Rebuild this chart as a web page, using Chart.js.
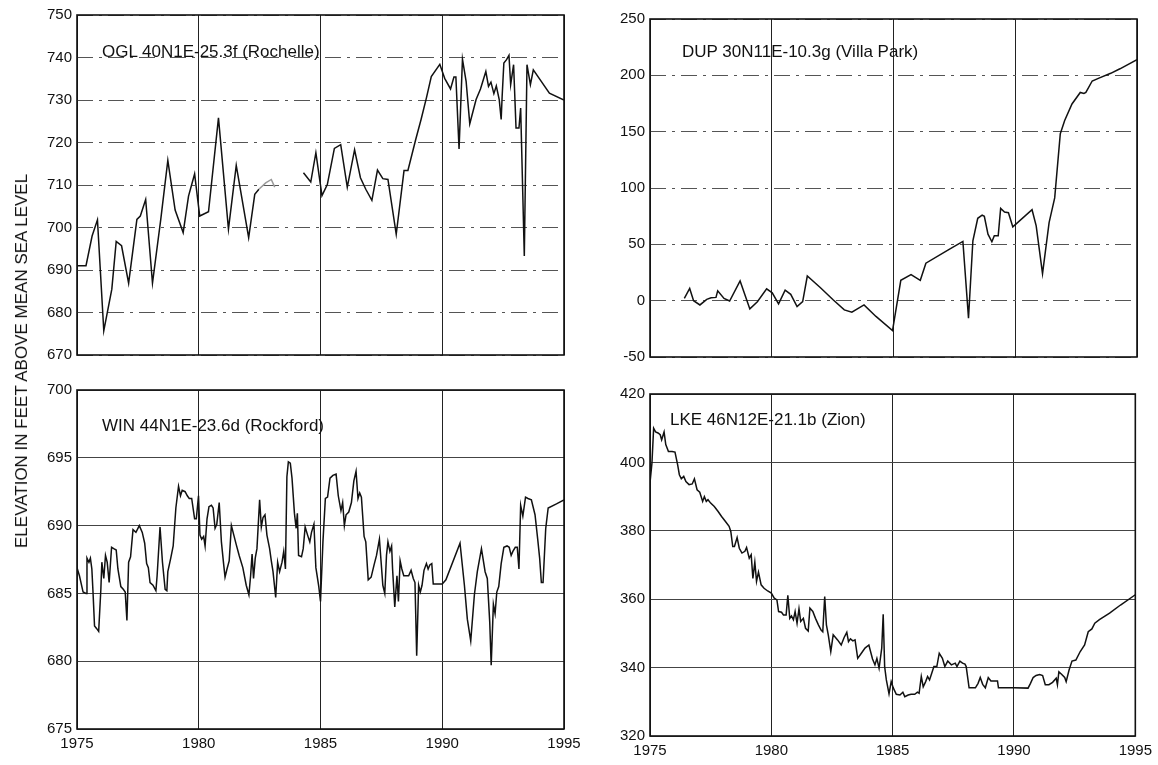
<!DOCTYPE html>
<html><head><meta charset="utf-8">
<script src="https://cdn.jsdelivr.net/npm/chart.js@4.4.1/dist/chart.umd.min.js"></script>
<style>
html,body{margin:0;padding:0;background:#fff;width:1158px;height:765px;overflow:hidden;}
.panel{position:absolute;}
.lbl{position:absolute;font-family:"Liberation Sans",Arial,sans-serif;font-size:17px;color:#111;white-space:nowrap;line-height:20px;}
#ytitle{position:absolute;left:22px;top:361px;transform:translate(-50%,-50%) rotate(-90deg);font-family:"Liberation Sans",Arial,sans-serif;font-size:17px;color:#111;white-space:nowrap;line-height:20px;}
</style></head>
<body>
<div class="panel" style="left:0;top:0;width:580px;height:370px"><canvas id="c1"></canvas></div>
<div class="panel" style="left:580px;top:0;width:578px;height:372px"><canvas id="c2"></canvas></div>
<div class="panel" style="left:0;top:375px;width:604px;height:390px"><canvas id="c3"></canvas></div>
<div class="panel" style="left:580px;top:379px;width:578px;height:386px"><canvas id="c4"></canvas></div>
<div class="lbl" style="left:102px;top:42px">OGL 40N1E-25.3f (Rochelle)</div>
<div class="lbl" style="left:682px;top:42px">DUP 30N11E-10.3g (Villa Park)</div>
<div class="lbl" style="left:102px;top:416px">WIN 44N1E-23.6d (Rockford)</div>
<div class="lbl" style="left:670px;top:410px">LKE 46N12E-21.1b (Zion)</div>
<div id="ytitle">ELEVATION IN FEET ABOVE MEAN SEA LEVEL</div>
<script>
// ---- tick labels ----
const xTicks = [1975, 1980, 1985, 1990, 1995];
const oglTicks = [670, 680, 690, 700, 710, 720, 730, 740, 750];
const dupTicks = [-50, 0, 50, 100, 150, 200, 250];
const winTicks = [675, 680, 685, 690, 695, 700];
const lkeTicks = [320, 340, 360, 380, 400, 420];

// ---- series values [year, elevation] ----
const oglSeries = [[1975.03,691],[1975.37,691],[1975.62,698],[1975.84,701.8],[1976.1,675.7],[1976.43,685.5],[1976.61,696.7],[1976.83,695.7],[1977.12,686.9],[1977.46,701.9],[1977.6,702.7],[1977.82,706.6],[1978.1,686.9],[1978.44,701.9],[1978.73,715.8],[1979.03,704.1],[1979.36,698.8],[1979.58,707.4],[1979.83,712.6],[1980.04,702.7],[1980.4,703.7],[1980.81,725.8],[1981.22,699.6],[1981.54,714.6],[1982.05,697.6],[1982.3,707.8],[1982.47,709],[1982.75,710.5],[1982.98,711.3],[1983.12,709.5],[1983.6,null],[1984.3,712.9],[1984.6,710.7],[1984.81,717.6],[1985.06,707.5],[1985.28,710.1],[1985.57,718.6],[1985.83,719.5],[1986.1,709.5],[1986.4,718.3],[1986.64,711.7],[1986.86,709],[1987.11,706.4],[1987.34,713.5],[1987.56,711.5],[1987.77,711.3],[1988.11,698.4],[1988.43,713.4],[1988.59,713.4],[1988.91,720.7],[1989.13,725.4],[1989.35,730.5],[1989.55,735.5],[1989.9,738.4],[1990.1,735.1],[1990.34,732.6],[1990.48,735.4],[1990.56,735.4],[1990.69,718.5],[1990.83,739.6],[1990.98,734.4],[1991.13,724.4],[1991.39,730.1],[1991.57,732.6],[1991.79,736.7],[1991.9,733.2],[1992.0,734.2],[1992.12,731.5],[1992.22,733.3],[1992.34,730.1],[1992.42,725.4],[1992.46,730.9],[1992.53,738.7],[1992.64,739.5],[1992.74,740.5],[1992.81,733.6],[1992.93,738.3],[1993.03,723.4],[1993.15,723.4],[1993.22,728.1],[1993.37,693.3],[1993.48,738.3],[1993.62,733.6],[1993.74,737.1],[1994.4,731.6],[1995.0,730]];

const dupSeries = [[1976.41,2],[1976.63,10.8],[1976.79,0],[1977.05,-3.8],[1977.33,1.2],[1977.51,2.6],[1977.71,2.9],[1977.78,8.8],[1978.04,2],[1978.27,-0.3],[1978.7,17.5],[1979.1,-7.3],[1979.41,-0.9],[1979.79,10.5],[1980.02,7],[1980.28,-2.9],[1980.55,9.4],[1980.78,5.6],[1981.04,-5.3],[1981.27,-0.9],[1981.46,21.9],[1981.99,11.7],[1982.53,0.6],[1982.98,-8.2],[1983.29,-10.2],[1983.79,-3.8],[1984.28,-14],[1984.96,-26.6],[1985.3,18.1],[1985.72,23.1],[1986.1,18.1],[1986.33,33.3],[1987.32,45.9],[1987.85,52.6],[1988.08,-15.5],[1988.26,53.2],[1988.46,73.1],[1988.64,76],[1988.73,74.9],[1988.88,59],[1989.04,52.3],[1989.14,57.6],[1989.3,57.6],[1989.4,81.9],[1989.56,78.7],[1989.72,78.1],[1989.9,65.5],[1990.69,80.7],[1990.86,66.4],[1991.12,24],[1991.39,69.3],[1991.62,91.2],[1991.85,148.2],[1992.03,160],[1992.33,174.6],[1992.67,184.8],[1992.82,183.9],[1992.9,184.8],[1993.16,195],[1993.46,197.7],[1993.92,201.8],[1994.3,205.8],[1995,214]];

const winSeries = [[1975.0,686.9],[1975.1,686.3],[1975.25,685.1],[1975.37,685.0],[1975.41,687.6],[1975.49,687.3],[1975.55,687.6],[1975.61,686.8],[1975.66,685],[1975.72,682.6],[1975.81,682.4],[1975.89,682.2],[1975.98,685.3],[1976.02,687.3],[1976.1,686.1],[1976.17,687.8],[1976.24,687.3],[1976.32,685.8],[1976.42,688.4],[1976.51,688.3],[1976.61,688.2],[1976.68,686.8],[1976.8,685.5],[1976.9,685.3],[1976.98,685.1],[1977.05,683],[1977.12,687.3],[1977.2,687.7],[1977.3,689.7],[1977.42,689.5],[1977.56,690],[1977.68,689.5],[1977.78,688.7],[1977.86,687.2],[1977.93,686.9],[1978.0,685.8],[1978.12,685.6],[1978.24,685.2],[1978.29,686.3],[1978.41,689.9],[1978.51,687.3],[1978.62,685.3],[1978.69,685.2],[1978.73,686.6],[1978.85,687.6],[1978.95,688.5],[1979.06,691.3],[1979.17,692.9],[1979.25,692.2],[1979.32,692.6],[1979.44,692.5],[1979.53,692.2],[1979.61,692],[1979.71,692],[1979.83,690.5],[1979.9,690.5],[1979.99,692.2],[1980.05,689.3],[1980.12,689],[1980.2,689.2],[1980.26,688.5],[1980.34,690.5],[1980.42,691.4],[1980.52,691.5],[1980.59,691.3],[1980.67,689.8],[1980.74,690.1],[1980.84,691.7],[1980.93,688.8],[1981.02,687.2],[1981.08,686.2],[1981.16,686.8],[1981.25,687.4],[1981.34,690],[1981.44,689.3],[1981.54,688.6],[1981.66,687.8],[1981.81,686.9],[1981.95,685.6],[1982.06,684.9],[1982.13,686.3],[1982.19,687.9],[1982.25,686.1],[1982.32,687.6],[1982.39,688.3],[1982.5,691.9],[1982.57,689.9],[1982.64,690.6],[1982.72,690.8],[1982.8,689.3],[1982.91,688.3],[1982.98,687.4],[1983.05,686.6],[1983.16,684.7],[1983.24,687.3],[1983.32,686.6],[1983.42,687.3],[1983.49,688.1],[1983.56,686.8],[1983.62,693.6],[1983.68,694.7],[1983.76,694.6],[1983.83,693.5],[1983.93,690.9],[1984.0,689.8],[1984.05,690.9],[1984.1,687.8],[1984.22,687.7],[1984.29,688.3],[1984.37,689.9],[1984.47,689.3],[1984.56,688.8],[1984.63,689.5],[1984.73,690.1],[1984.81,686.9],[1984.93,685.5],[1985.0,684.4],[1985.1,688.8],[1985.2,692],[1985.29,692.1],[1985.39,693.5],[1985.51,693.7],[1985.64,693.8],[1985.73,692.2],[1985.84,691.1],[1985.91,691.7],[1985.98,690],[1986.05,690.8],[1986.16,691],[1986.27,691.7],[1986.37,693.3],[1986.46,694],[1986.54,692],[1986.61,692.4],[1986.68,692.1],[1986.79,689.2],[1986.86,688.8],[1986.96,686],[1987.08,686.2],[1987.2,687.1],[1987.3,687.8],[1987.42,689],[1987.49,687.3],[1987.56,685.6],[1987.64,685],[1987.71,687.8],[1987.77,688.8],[1987.85,688.1],[1987.92,688.5],[1987.96,686.8],[1988.05,684],[1988.14,686.3],[1988.2,684.4],[1988.27,687.4],[1988.34,686.8],[1988.42,686.3],[1988.52,686.3],[1988.62,686.3],[1988.72,686.7],[1988.81,686.1],[1988.88,685.8],[1988.95,680.4],[1989.03,685.6],[1989.1,685.1],[1989.17,685.6],[1989.25,686.7],[1989.35,687.2],[1989.42,686.8],[1989.49,687.1],[1989.57,687.2],[1989.63,685.7],[1989.71,685.7],[1990.0,685.7],[1990.15,686],[1990.73,688.7],[1990.91,685.6],[1991.03,683.1],[1991.17,681.5],[1991.32,684.9],[1991.44,686.6],[1991.61,688.3],[1991.76,686.6],[1991.85,686.1],[1991.95,682.9],[1992.01,679.7],[1992.1,684.2],[1992.17,683.5],[1992.24,685.1],[1992.32,685.5],[1992.42,687.2],[1992.53,688.4],[1992.66,688.5],[1992.75,688.4],[1992.83,687.8],[1992.9,688.1],[1993.0,688.4],[1993.08,688.4],[1993.15,686.8],[1993.22,691.5],[1993.31,690.7],[1993.42,692.1],[1993.52,692],[1993.66,691.9],[1993.81,690.8],[1993.92,689],[1994.0,687.6],[1994.07,685.8],[1994.14,685.8],[1994.25,689.8],[1994.35,691.3],[1994.69,691.6],[1995.0,691.9]];

const lkeSeries = [[1975.0,394],[1975.08,399.8],[1975.15,410],[1975.23,408.9],[1975.33,408.6],[1975.42,408.1],[1975.48,406.6],[1975.58,408.9],[1975.65,405.2],[1975.76,403.2],[1975.91,403.2],[1976.03,403],[1976.14,399.3],[1976.21,396.4],[1976.29,395.2],[1976.39,395.9],[1976.48,394.4],[1976.61,393.5],[1976.74,393.7],[1976.83,395.2],[1976.94,392],[1977.05,391.3],[1977.17,388.6],[1977.24,390],[1977.32,388.6],[1977.39,389.1],[1977.5,388.1],[1977.65,387.1],[1977.8,385.7],[1977.95,384.2],[1978.11,382.7],[1978.26,381.3],[1978.33,379.8],[1978.41,375.4],[1978.48,375.4],[1978.59,378],[1978.68,374.9],[1978.79,373.5],[1978.91,374],[1978.98,375.1],[1979.09,372],[1979.17,373],[1979.24,366.1],[1979.32,370.8],[1979.39,365.2],[1979.47,367.9],[1979.58,364.2],[1979.7,363.2],[1979.85,362.4],[1980.0,361.8],[1980.12,360.3],[1980.23,359.8],[1980.3,356.4],[1980.42,356.2],[1980.5,355.4],[1980.61,355.4],[1980.68,361.1],[1980.76,354.4],[1980.83,355.1],[1980.91,354],[1980.98,356.4],[1981.06,353],[1981.14,357.2],[1981.21,353.5],[1981.32,354.4],[1981.41,351.5],[1981.52,350.7],[1981.59,357.4],[1981.71,356.4],[1981.82,354.4],[1981.94,352.5],[1982.05,351],[1982.12,350.5],[1982.2,360.8],[1982.27,352.5],[1982.35,349.4],[1982.45,344.7],[1982.55,349.6],[1982.73,348.1],[1982.88,346.6],[1983.0,348.8],[1983.11,350.3],[1983.18,347.6],[1983.26,348.4],[1983.36,347.8],[1983.45,348.1],[1983.56,342.7],[1983.71,344.2],[1983.86,345.7],[1984.02,346.6],[1984.17,342.5],[1984.27,340.8],[1984.35,342.7],[1984.44,339.8],[1984.55,345.7],[1984.61,355.6],[1984.67,340.3],[1984.74,336.4],[1984.85,332.3],[1984.94,335.9],[1985.03,334],[1985.15,332.2],[1985.3,332],[1985.42,332.8],[1985.5,331.5],[1985.64,332],[1985.76,332.2],[1985.91,332.2],[1986.02,332.8],[1986.09,332.5],[1986.18,337.4],[1986.26,334.4],[1986.36,335.9],[1986.44,337.4],[1986.52,336.4],[1986.59,337.9],[1986.7,340.3],[1986.82,340.3],[1986.92,344.2],[1987.05,342.7],[1987.15,340.3],[1987.27,341.9],[1987.42,340.8],[1987.58,341.3],[1987.65,340.3],[1987.77,341.9],[1987.88,341.3],[1987.98,341],[1988.03,340.3],[1988.15,334.1],[1988.26,334.1],[1988.41,334.1],[1988.52,335.4],[1988.61,337.1],[1988.71,335.1],[1988.82,334.1],[1988.94,337.1],[1989.05,336.1],[1989.17,336.1],[1989.32,336.1],[1989.36,334.1],[1990.0,334.1],[1990.58,334],[1990.68,335.4],[1990.79,337.1],[1990.91,337.7],[1991.06,338],[1991.18,337.7],[1991.29,335],[1991.44,335],[1991.59,335.7],[1991.74,336.9],[1991.79,335],[1991.85,338.8],[1991.97,338],[1992.09,337.1],[1992.15,335.9],[1992.27,339.3],[1992.39,341.9],[1992.55,342.2],[1992.73,344.7],[1992.91,346.6],[1993.06,350.5],[1993.21,351.3],[1993.33,353],[1993.52,354],[1993.94,355.9],[1994.39,358.3],[1995.0,361.3]];

const FONT = {family: '"Liberation Sans", Arial, sans-serif', size: 15};

const framePlugin = {
  id: 'frame',
  afterDraw(chart) {
    const a = chart.chartArea, ctx = chart.ctx;
    ctx.save();
    ctx.strokeStyle = '#111';
    ctx.lineWidth = 1.6;
    ctx.strokeRect(a.left, a.top, a.right - a.left, a.bottom - a.top);
    ctx.restore();
  }
};

function makeChart(id, series, yTicks, cfg) {
  const data = series.map(p => ({x: p[0], y: p[1]}));
  new Chart(document.getElementById(id), {
    type: 'line',
    data: {datasets: [{
      data,
      borderColor: '#111',
      borderWidth: 1.5,
      pointRadius: 0,
      tension: 0,
      spanGaps: false,
      segment: cfg.segment || {}
    }]},
    options: {
      responsive: true,
      maintainAspectRatio: false,
      animation: false,
      events: [],
      layout: {padding: cfg.pad},
      plugins: {legend: {display: false}, tooltip: {enabled: false}},
      scales: {
        x: {
          type: 'linear',
          min: 1975, max: 1995,
          afterBuildTicks: s => { s.ticks = xTicks.map(v => ({value: v})); },
          afterFit: s => { s.height = cfg.xH; },
          ticks: {display: cfg.showX, callback: v => String(v), font: FONT, color: '#111', padding: 6, maxRotation: 0, autoSkip: false},
          grid: {color: '#222', lineWidth: 1, drawTicks: false},
          border: {display: false}
        },
        y: {
          type: 'linear',
          min: yTicks[0], max: yTicks[yTicks.length - 1],
          afterBuildTicks: s => { s.ticks = yTicks.map(v => ({value: v})); },
          afterFit: s => { s.width = cfg.yW; },
          ticks: {callback: v => String(v), font: FONT, color: '#111', padding: 5, autoSkip: false},
          grid: {color: cfg.gridColor, lineWidth: 1, drawTicks: false},
          border: {display: false, dash: cfg.dash}
        }
      }
    },
    plugins: [framePlugin]
  });
}

const faint = ctx => (ctx.p0.parsed.x >= 1982.47 && ctx.p1.parsed.x <= 1983.12) ? '#9a9a9a' : undefined;

makeChart('c1', oglSeries, oglTicks, {pad: {top: 15, right: 16, bottom: 15, left: 0}, xH: 0, yW: 77, showX: false, dash: [16, 6, 3, 6], gridColor: '#555', segment: {borderColor: faint}});
makeChart('c2', dupSeries, dupTicks, {pad: {top: 19, right: 21, bottom: 15, left: 0}, xH: 0, yW: 70, showX: false, dash: [16, 6, 3, 6], gridColor: '#555'});
makeChart('c3', winSeries, winTicks, {pad: {top: 15, right: 40, bottom: 0, left: 0}, xH: 36, yW: 77, showX: true, dash: [], gridColor: '#444'});
makeChart('c4', lkeSeries, lkeTicks, {pad: {top: 15, right: 21, bottom: 0, left: 0}, xH: 29, yW: 70, showX: true, dash: [], gridColor: '#444'});
</script>
</body></html>
